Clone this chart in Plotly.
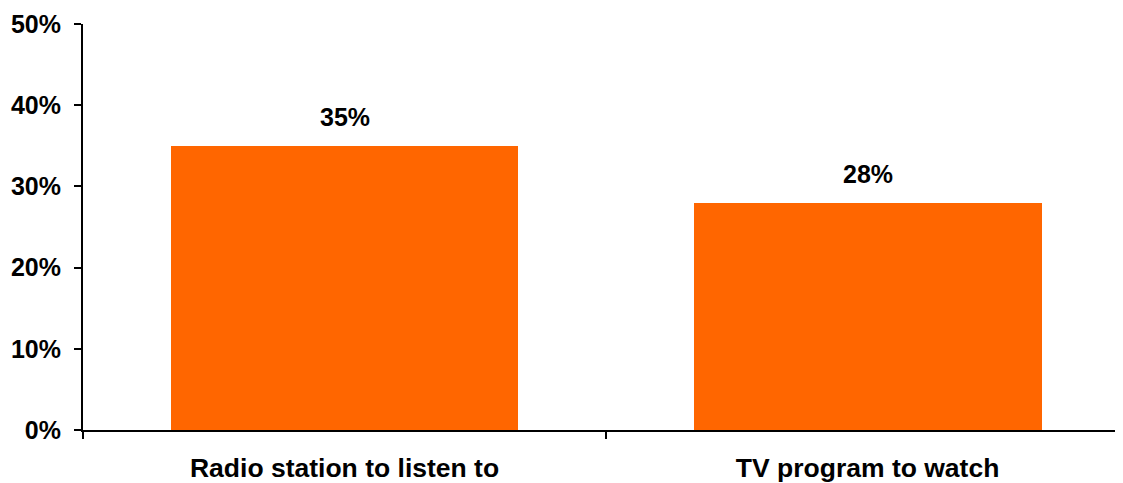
import plotly.graph_objects as go

categories = ["Radio station to listen to", "TV program to watch"]
values = [35, 28]
y_ticks = [0, 10, 20, 30, 40, 50]
y_tick_labels = ["0%", "10%", "20%", "30%", "40%", "50%"]

BAR_COLOR = "#FF6600"
FONT = "Liberation Sans, Arial, sans-serif"

fig = go.Figure()
fig.add_trace(go.Bar(
    x=categories, y=values,
    marker=dict(color=BAR_COLOR, line=dict(width=0)),
    width=0.665,
    hoverinfo="skip",
))

for c, v in zip(categories, values):
    fig.add_annotation(
        x=c, y=v, text=f"<b>{v}%</b>", showarrow=False,
        yshift=29, font=dict(family=FONT, size=25, color="black"),
    )

fig.update_layout(
    width=1107, height=475,
    margin=dict(l=75, r=0, t=16, b=53),
    plot_bgcolor="white", paper_bgcolor="white",
    showlegend=False,
    bargap=0,
    font=dict(family=FONT, size=25, color="black"),
)
fig.update_xaxes(
    range=[-0.5, 1.473],
    automargin=False,
    showline=True, linecolor="black", linewidth=2,
    ticks="outside", tickson="boundaries", ticklen=7, tickwidth=1.5, tickcolor="black",
    showgrid=False, zeroline=False,
    ticklabelstandoff=13,
    tickfont=dict(family=FONT, size=26.5, color="black", weight="bold"),
)
fig.update_yaxes(
    range=[0, 50],
    automargin=False,
    tickvals=y_ticks, ticktext=y_tick_labels,
    showline=True, linecolor="black", linewidth=2,
    ticks="outside", ticklen=7, tickwidth=1.5, tickcolor="black",
    showgrid=False, zeroline=False,
    ticklabelstandoff=8,
    tickfont=dict(family=FONT, size=25, color="black", weight="bold"),
)

fig.write_html("out.html")
